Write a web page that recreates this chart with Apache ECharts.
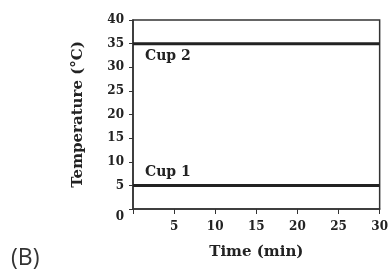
<!DOCTYPE html>
<html>
<head>
<meta charset="utf-8">
<script src="https://cdn.jsdelivr.net/npm/echarts@6/dist/echarts.min.js"></script>
<style>
  html, body { margin: 0; padding: 0; background: #fff; }
  #chart { width: 391px; height: 277px; }
</style>
</head>
<body>
<div id="chart"></div>
<script>
  // time points (min) and temperatures (°C)
  const timeMin = [0, 30];
  const cup1 = [5, 5];
  const cup2 = [35, 35];
  const seriesNames = ['Cup 1', 'Cup 2'];

  const serif = '"DejaVu Serif", "Liberation Serif", serif';
  const ink = '#222';

  const chart = echarts.init(document.getElementById('chart'));

  function lineSeries(name, values, labelPos) {
    return {
      name: name,
      type: 'line',
      data: timeMin.map((t, i) => ({
        value: [t, values[i]],
        label: i === 0 ? {
          show: true,
          formatter: name,
          position: labelPos,
          color: ink,
          fontFamily: serif,
          fontSize: 14,
          fontWeight: 'bold',
        } : { show: false },
      })),
      symbol: 'circle',
      symbolSize: 0,
      showSymbol: true,
      lineStyle: { color: ink, width: 3 },
      itemStyle: { color: ink },
      silent: true,
      animation: false,
    };
  }

  const option = {
    backgroundColor: '#fff',
    animation: false,
    grid: {
      left: 133, right: 10, top: 20, bottom: 68,
      show: true, borderColor: '#333', borderWidth: 1.5,
    },
    xAxis: {
      type: 'value',
      min: 0, max: 30, interval: 5,
      name: 'Time (min)',
      nameLocation: 'middle',
      nameGap: 36,
      nameTextStyle: { color: ink, fontFamily: serif, fontSize: 15, fontWeight: 'bold' },
      axisLine: { show: true, lineStyle: { color: '#333', width: 1.5 } },
      axisTick: { show: true, length: 5, lineStyle: { color: '#333' } },
      axisLabel: {
        color: ink, fontFamily: serif, fontSize: 12, fontWeight: 'bold', margin: 12,
        formatter: (v) => (v === 0 ? '' : v),
      },
      splitLine: { show: false },
    },
    yAxis: {
      type: 'value',
      min: 0, max: 40, interval: 5,
      name: 'Temperature (°C)',
      nameLocation: 'middle',
      nameGap: 47,
      nameTextStyle: { color: ink, fontFamily: serif, fontSize: 15, fontWeight: 'bold' },
      axisLine: { show: true, lineStyle: { color: '#333', width: 1.5 } },
      axisTick: { show: true, length: 4, lineStyle: { color: '#333' } },
      axisLabel: {
        color: ink, fontFamily: serif, fontSize: 12, fontWeight: 'bold', margin: 9,
        formatter: (v) => (v === 0 ? '{z|0}' : v),
        rich: { z: { fontFamily: serif, fontSize: 12, fontWeight: 'bold', color: ink, padding: [16, 0, 0, 0] } },
      },
      splitLine: { show: false },
    },
    graphic: [
      {
        type: 'text',
        left: 11, top: 247,
        style: { text: '(B)', fill: '#333', font: '23px "Open Sans", sans-serif' },
      },
    ],
    series: [
      lineSeries(seriesNames[0], cup1, [12, -20]),
      lineSeries(seriesNames[1], cup2, [12, 6]),
    ],
  };

  chart.setOption(option);
</script>
</body>
</html>
